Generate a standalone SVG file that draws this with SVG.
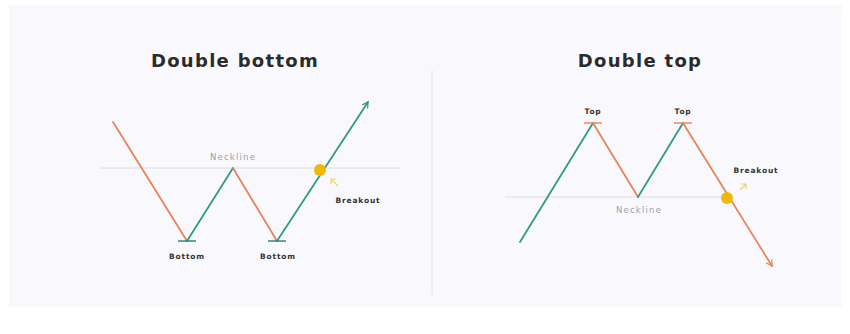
<svg xmlns="http://www.w3.org/2000/svg" width="850" height="334" viewBox="0 0 850 334">
<defs>
<style>
.title{font-family:"DejaVu Sans","Liberation Sans",sans-serif;font-weight:700;font-size:18px;letter-spacing:1.3px;fill:#2b2b2b;text-anchor:middle}
.lbl{font-family:"DejaVu Sans","Liberation Sans",sans-serif;font-weight:700;font-size:7.5px;letter-spacing:0.8px;fill:#333;text-anchor:middle}
.neck{font-family:"DejaVu Sans","Liberation Sans",sans-serif;font-size:8.5px;letter-spacing:1.2px;fill:#a0a0a8;text-anchor:middle}
.up{stroke:#2e9c83;stroke-width:1.8;fill:none;stroke-linecap:round}
.down{stroke:#e8835a;stroke-width:1.8;fill:none;stroke-linecap:round}
.level{stroke:#dcdce2;stroke-width:1;fill:none}
.tick{stroke-width:1.4;fill:none}
.dot{fill:#f2b705}
.hint{stroke:#f2cf6a;stroke-width:1.2;fill:none}
</style>
<marker id="arrUp" viewBox="0 0 10 10" refX="8" refY="5" markerWidth="8" markerHeight="8" orient="auto" markerUnits="userSpaceOnUse">
<path d="M1,1 L8,5 L1,9" fill="none" stroke="#2e9c83" stroke-width="1.6"/>
</marker>
<marker id="arrDn" viewBox="0 0 10 10" refX="8" refY="5" markerWidth="8" markerHeight="8" orient="auto" markerUnits="userSpaceOnUse">
<path d="M1,1 L8,5 L1,9" fill="none" stroke="#e8835a" stroke-width="1.6"/>
</marker>
</defs>
<rect x="0" y="0" width="850" height="334" fill="#ffffff"/>
<rect x="9" y="5" width="833" height="302" fill="#f9f9fd"/>
<line x1="432" y1="70" x2="432" y2="295" stroke="#e3e3e8" stroke-width="1"/>

<g id="title-left"><text class="title" x="235" y="67">Double bottom</text></g>
<g id="title-right"><text class="title" x="640" y="67">Double top</text></g>

<g id="connectors">
<line class="level" x1="100" y1="168" x2="400" y2="168"/>
<polyline class="down" points="113,122 187,241"/>
<polyline class="up" points="187,241 233,168"/>
<polyline class="down" points="233,168 277,241"/>
<line class="up" x1="277" y1="241" x2="368" y2="102" marker-end="url(#arrUp)"/>

<line class="level" x1="505" y1="197" x2="730" y2="197"/>
<polyline class="up" points="520,242 593,123"/>
<polyline class="down" points="593,123 638,197"/>
<polyline class="up" points="638,197 683,123"/>
<line class="down" x1="683" y1="123" x2="772" y2="266" marker-end="url(#arrDn)"/>
</g>

<g id="neckline-left"><text class="neck" x="233" y="160">Neckline</text></g>
<g id="neckline-right"><text class="neck" x="639" y="213">Neckline</text></g>

<g id="bottom1">
<line class="tick" stroke="#2e7d6b" x1="178" y1="241" x2="196" y2="241"/>
<text class="lbl" x="187" y="259">Bottom</text>
</g>
<g id="bottom2">
<line class="tick" stroke="#2e7d6b" x1="268" y1="241" x2="286" y2="241"/>
<text class="lbl" x="278" y="259">Bottom</text>
</g>
<g id="top1">
<line class="tick" stroke="#e8835a" x1="584" y1="123" x2="602" y2="123"/>
<text class="lbl" x="593" y="114">Top</text>
</g>
<g id="top2">
<line class="tick" stroke="#e8835a" x1="674" y1="123" x2="692" y2="123"/>
<text class="lbl" x="683" y="114">Top</text>
</g>

<g id="breakout-left">
<circle class="dot" cx="320" cy="170" r="6"/>
<path class="hint" d="M338,186 L331,179 M331,179 L331,184 M331,179 L336,179"/>
<text class="lbl" x="358" y="203">Breakout</text>
</g>
<g id="breakout-right">
<circle class="dot" cx="727" cy="198" r="6"/>
<path class="hint" d="M740,190 L746,184 M746,184 L741,184 M746,184 L746,189"/>
<text class="lbl" x="756" y="173">Breakout</text>
</g>
</svg>
